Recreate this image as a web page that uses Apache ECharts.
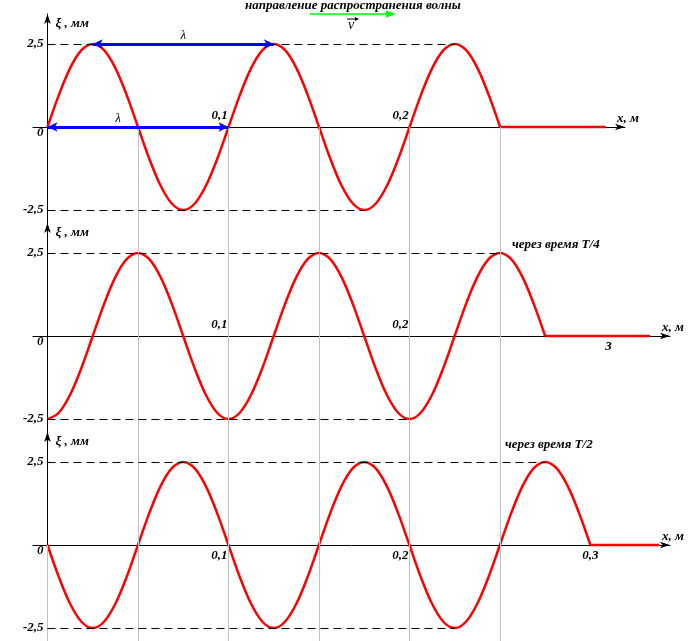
<!DOCTYPE html>
<html>
<head>
<meta charset="utf-8">
<script src="https://cdn.jsdelivr.net/npm/echarts@6/dist/echarts.min.js"></script>
<style>html,body{margin:0;padding:0;background:#fff}#c{width:697px;height:641px}</style>
</head>
<body>
<div id="c"></div>
<script>
// ---- data ----
const xs = [0, 0.00625, 0.0125, 0.01875, 0.025, 0.03125, 0.0375, 0.04375, 0.05, 0.05625, 0.0625, 0.06875, 0.075, 0.08125, 0.0875, 0.09375,
  0.1, 0.10625, 0.1125, 0.11875, 0.125, 0.13125, 0.1375, 0.14375, 0.15, 0.15625, 0.1625, 0.16875, 0.175, 0.18125, 0.1875, 0.19375,
  0.2, 0.20625, 0.2125, 0.21875, 0.225, 0.23125, 0.2375, 0.24375, 0.25, 0.25625, 0.2625, 0.26875, 0.275, 0.28125, 0.2875, 0.29375, 0.3];
const wave1 = [0, 0.96, 1.77, 2.31, 2.5, 2.31, 1.77, 0.96, 0, -0.96, -1.77, -2.31, -2.5, -2.31, -1.77, -0.96,
  0, 0.96, 1.77, 2.31, 2.5, 2.31, 1.77, 0.96, 0, -0.96, -1.77, -2.31, -2.5, -2.31, -1.77, -0.96,
  0, 0.96, 1.77, 2.31, 2.5, 2.31, 1.77, 0.96, 0];
const wave2 = [-2.5, -2.31, -1.77, -0.96, 0, 0.96, 1.77, 2.31, 2.5, 2.31, 1.77, 0.96, 0, -0.96, -1.77, -2.31,
  -2.5, -2.31, -1.77, -0.96, 0, 0.96, 1.77, 2.31, 2.5, 2.31, 1.77, 0.96, 0, -0.96, -1.77, -2.31,
  -2.5, -2.31, -1.77, -0.96, 0, 0.96, 1.77, 2.31, 2.5, 2.31, 1.77, 0.96, 0];
const wave3 = [0, -0.96, -1.77, -2.31, -2.5, -2.31, -1.77, -0.96, 0, 0.96, 1.77, 2.31, 2.5, 2.31, 1.77, 0.96,
  0, -0.96, -1.77, -2.31, -2.5, -2.31, -1.77, -0.96, 0, 0.96, 1.77, 2.31, 2.5, 2.31, 1.77, 0.96,
  0, -0.96, -1.77, -2.31, -2.5, -2.31, -1.77, -0.96, 0, 0.96, 1.77, 2.31, 2.5, 2.31, 1.77, 0.96, 0];
const waveEnd = [0.25, 0.275, 0.3];
const tailEnd = [0.3084, 0.333, 0.338];
const guideX = [0.05, 0.1, 0.15, 0.2, 0.25];
const peakTopEnd = [0.225, 0.25, 0.275];
const troughEnd = [0.175, 0.2, 0.225];
const lambdaTop = [0.025, 0.125];
const lambdaBottom = [0, 0.1];
const xTickVals = [[0.1, 0.2], [0.1, 0.2], [0.1, 0.2, 0.3]];
const yTickVals = [-2.5, 0, 2.5];
const amp = 2.5;
const panel2ExtraLabel = {x: 0.31, text: '3'};

// ---- styling ----
const FF = '"Liberation Serif", "Times New Roman", serif';
const F = {fontFamily: FF, fontStyle: 'italic', fontWeight: 'bold', fontSize: 13, color: '#000'};
const waves = [wave1, wave2, wave3];
const YMIN = -2.89, YMAX = 3.4;
const XMIN = -0.008;
const xMax = [0.319, 0.344, 0.344];
const GH = 209;
const grids = [
  {left: 33, right: 72, top: 14, height: GH},
  {left: 33, right: 27, top: 223, height: GH},
  {left: 33, right: 27, top: 432, height: GH}
];
// pixel offsets so that axes sit on the zero lines
const zeroFromBottom = GH * (0 - YMIN) / (YMAX - YMIN);
const zeroFromLeft = (697 - 33 - 72) * (0 - XMIN) / (xMax[0] - XMIN);

const fmtNum = v => String(v).replace('.', ',');

const xAxes = [0, 1, 2].map(i => ({
  type: 'value', gridIndex: i, min: XMIN, max: xMax[i], position: 'bottom',
  offset: -zeroFromBottom,
  axisLine: {onZero: false, lineStyle: {color: '#000', width: 1}, symbol: ['none', 'arrow'], symbolSize: [5, 10]},
  axisTick: {show: false}, splitLine: {show: false},
  axisLabel: {
    customValues: xTickVals[i], inside: i < 2, margin: i < 2 ? 5 : 4,
    ...F,
    formatter: v => (Math.abs(v - 0.3) < 1e-9 ? '{c|' + fmtNum(v) + '}' : '{r|' + fmtNum(v) + '}'),
    rich: {r: {...F, padding: [0, 18, 0, 0]}, c: {...F}}
  },
  name: 'x, м', nameLocation: 'end', nameGap: -8,
  nameTextStyle: {...F, align: 'left', verticalAlign: 'bottom', padding: [0, 0, 2, 0]}
}));

const yAxes = [0, 1, 2].map(i => ({
  type: 'value', gridIndex: i, min: YMIN, max: YMAX, position: 'left',
  offset: -zeroFromLeft,
  axisLine: {onZero: false, lineStyle: {color: '#000', width: 1}, symbol: ['none', 'arrow'], symbolSize: [5, 10]},
  axisTick: {show: false}, splitLine: {show: false},
  axisLabel: {
    customValues: yTickVals, margin: 4, ...F,
    formatter: v => (v === 0 ? '{z|0}' : '{n|' + fmtNum(v) + '}'),
    rich: {z: {...F, padding: [12, 0, 0, 0]}, n: {...F}}
  },
  name: 'ξ , мм', nameLocation: 'end', nameGap: -10,
  nameTextStyle: {...F, align: 'left', verticalAlign: 'middle', padding: [0, 0, 0, 8]}
}));

const series = [];
[0, 1, 2].forEach(p => {
  const w = waves[p];
  const grey = guideX.map(x => [{coord: [x, p === 0 ? 0 : YMAX]}, {coord: [x, YMIN]}]);
  if (p === 2) grey.push([{coord: [0, 0]}, {coord: [0, YMIN]}]);
  series.push({
    type: 'line', xAxisIndex: p, yAxisIndex: p, data: [], z: 1, silent: true,
    markLine: {silent: true, symbol: ['none', 'none'], label: {show: false},
      lineStyle: {color: '#c0c0c0', width: 1, type: 'solid'}, data: grey}
  });
  series.push({
    type: 'line', xAxisIndex: p, yAxisIndex: p, data: [], z: 2, silent: true,
    markLine: {silent: true, symbol: ['none', 'none'], label: {show: false},
      lineStyle: {color: '#000', width: 1, type: [8, 5]},
      data: [
        [{coord: [0, amp]}, {coord: [peakTopEnd[p], amp]}],
        [{coord: [0, -amp]}, {coord: [troughEnd[p], -amp]}]
      ]}
  });
  series.push({
    type: 'line', xAxisIndex: p, yAxisIndex: p, z: 4,
    data: w.map((v, i) => [xs[i], v]),
    smooth: 0.33, showSymbol: false, symbol: 'none',
    lineStyle: {color: '#ff0000', width: 2.5}
  });
  const tail = {
    type: 'line', xAxisIndex: p, yAxisIndex: p, z: 4,
    data: [[waveEnd[p], 0], [tailEnd[p], 0]],
    showSymbol: false, symbol: 'none',
    lineStyle: {color: '#ff0000', width: 2.5}
  };
  if (p === 1) {
    tail.markPoint = {
      symbol: 'circle', symbolSize: 0.1,
      label: {show: true, position: 'bottom', distance: 4, ...F, formatter: panel2ExtraLabel.text},
      data: [{coord: [panel2ExtraLabel.x, 0]}]
    };
  }
  series.push(tail);
});

series.push({
  type: 'line', xAxisIndex: 0, yAxisIndex: 0, data: [], z: 3, silent: true,
  markLine: {
    silent: true, symbol: ['arrow', 'arrow'], symbolSize: [7, 10],
    lineStyle: {color: '#0000ff', width: 3, type: 'solid'},
    label: {show: true, position: 'middle', formatter: 'λ', fontFamily: FF, fontStyle: 'italic', fontSize: 13, color: '#000', distance: 2},
    data: [
      [{coord: [lambdaTop[0], amp]}, {coord: [lambdaTop[1], amp]}],
      [{coord: [lambdaBottom[0], 0], label: {offset: [-20, 0]}}, {coord: [lambdaBottom[1], 0]}]
    ]
  }
});

const option = {
  animation: false,
  backgroundColor: '#fff',
  grid: grids,
  xAxis: xAxes,
  yAxis: yAxes,
  series: series,
  graphic: [
    {type: 'text', left: 245, top: -1, style: {text: 'направление распространения волны', font: 'italic bold 13px ' + FF, fill: '#000'}},
    {type: 'line', shape: {x1: 310, y1: 14, x2: 392, y2: 14}, style: {stroke: '#00ff00', lineWidth: 1.5}},
    {type: 'polygon', shape: {points: [[396, 14], [386, 10.5], [386, 17.5]]}, style: {fill: '#00ff00'}},
    {type: 'text', left: 348, top: 18, style: {text: 'v', font: 'italic 14px ' + FF, fill: '#000'}},
    {type: 'line', shape: {x1: 347, y1: 19, x2: 357, y2: 19}, style: {stroke: '#000', lineWidth: 1}},
    {type: 'polygon', shape: {points: [[359, 19], [355, 17], [355, 21]]}, style: {fill: '#000'}},
    {type: 'text', left: 512, top: 238, style: {text: 'через время T/4', font: 'italic bold 13px ' + FF, fill: '#000'}},
    {type: 'text', left: 505, top: 438, style: {text: 'через время T/2', font: 'italic bold 13px ' + FF, fill: '#000'}}
  ]
};

const chart = echarts.init(document.getElementById('c'), null, {renderer: 'canvas'});
chart.setOption(option);
</script>
</body>
</html>
